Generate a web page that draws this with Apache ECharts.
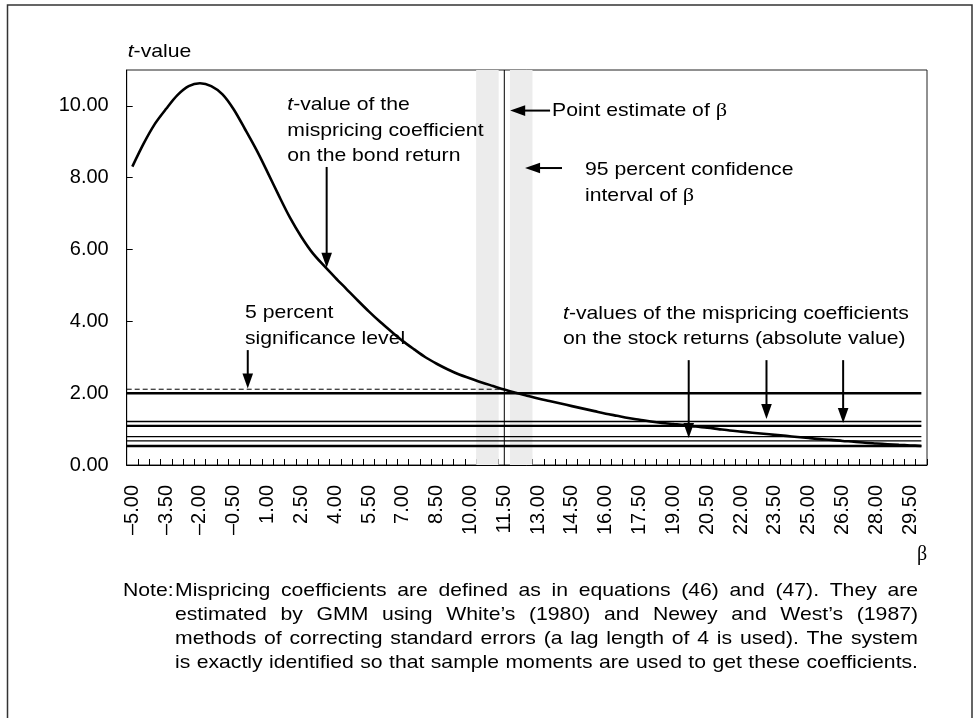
<!DOCTYPE html>
<html><head><meta charset="utf-8">
<script src="https://cdn.jsdelivr.net/npm/echarts@6/dist/echarts.min.js"></script>
<style>html,body{margin:0;padding:0;background:#fff}#c{width:976px;height:718px}</style>
</head><body><div id="c"></div>
<script>
// ---- data ----
const categories = [-5.0,-4.5,-4.0,-3.5,-3.0,-2.5,-2.0,-1.5,-1.0,-0.5,0.0,0.5,1.0,1.5,2.0,2.5,3.0,3.5,4.0,4.5,5.0,5.5,6.0,6.5,7.0,7.5,8.0,8.5,9.0,9.5,10.0,10.5,11.0,11.5,12.0,12.5,13.0,13.5,14.0,14.5,15.0,15.5,16.0,16.5,17.0,17.5,18.0,18.5,19.0,19.5,20.0,20.5,21.0,21.5,22.0,22.5,23.0,23.5,24.0,24.5,25.0,25.5,26.0,26.5,27.0,27.5,28.0,28.5,29.0,29.5,30.0];
const bondBeta = categories;
const bondT = [8.31,8.95,9.5,9.92,10.3,10.55,10.63,10.55,10.32,9.9,9.35,8.78,8.15,7.5,6.88,6.35,5.9,5.55,5.22,4.9,4.58,4.27,3.98,3.71,3.45,3.22,3.0,2.82,2.66,2.52,2.41,2.3,2.2,2.1,2.01,1.93,1.85,1.78,1.71,1.64,1.57,1.5,1.43,1.37,1.31,1.26,1.21,1.17,1.14,1.11,1.07,1.04,1.0,0.96,0.93,0.9,0.87,0.84,0.81,0.78,0.75,0.72,0.7,0.67,0.65,0.62,0.6,0.58,0.56,0.545,0.53];
const stockT = [1.21, 1.09, 0.79, 0.67, 0.53];
const sigLevel = 2.0;
const sigLevelExact = 2.11;
const pointEstimate = 11.5;
const ciBands = [[10.25, 11.25], [11.75, 12.75]];
const yTicks = [0, 2, 4, 6, 8, 10];
const xRange = [-5.25, 30.25];
const yRange = [0, 11];
const noteLines = [
  "Mispricing coefficients are defined as in equations (46) and (47). They are",
  "estimated by GMM using White\u2019s (1980) and Newey and West\u2019s (1987)",
  "methods of correcting standard errors (a lag length of 4 is used). The system",
  "is exactly identified so that sample moments are used to get these coefficients."
];
// arrows: [fromBeta, fromT, toBeta, toT]
const arrowsData = [
  [3.62, 8.30, 3.62, 5.49],
  [0.12, 3.20, 0.12, 2.13],
  [13.53, 9.87, 11.76, 9.87],
  [14.06, 8.27, 12.42, 8.27],
  [19.68, 2.92, 19.68, 0.75],
  [23.13, 2.92, 23.13, 1.28],
  [26.53, 2.92, 26.53, 1.17]
];
// ---- styles ----
const stockWidths = [1.6, 2.4, 1.3, 1.3, 2.4];
const FONT = '"Liberation Sans", Arial, sans-serif';
const SERIF = '"Liberation Serif", "Times New Roman", serif';
const SX = 1.145, FS = 18.5;

const chart = echarts.init(document.getElementById('c'));
const fmt = v => { const n = Number(v); return (n < 0 ? '\u2013' : '') + Math.abs(n).toFixed(2); };

const series = [];
series.push({
  type: 'line', xAxisIndex: 1, yAxisIndex: 0, z: 2, symbol: 'none', silent: true,
  data: [[pointEstimate, yRange[0]], [pointEstimate, yRange[1]]],
  lineStyle: { color: '#000', width: 1 },
  markArea: { silent: true, z: 1, itemStyle: { color: '#ececec' },
    data: ciBands.map(b => [{ xAxis: b[0] }, { xAxis: b[1] }]) }
});
series.push({
  type: 'line', xAxisIndex: 1, yAxisIndex: 0, z: 3, symbol: 'none', silent: true,
  data: [[xRange[0], sigLevelExact], [pointEstimate, sigLevelExact]],
  lineStyle: { color: '#000', width: 1, type: [5, 3] }
});
series.push({
  type: 'line', xAxisIndex: 1, yAxisIndex: 0, z: 3, symbol: 'none', silent: true,
  data: [[xRange[0], sigLevel], [categories[categories.length - 1], sigLevel]],
  lineStyle: { color: '#000', width: 2.4 }
});
stockT.forEach((t, i) => series.push({
  type: 'line', xAxisIndex: 1, yAxisIndex: 0, z: 3, symbol: 'none', silent: true,
  data: [[xRange[0], t], [categories[categories.length - 1], t]],
  lineStyle: { color: '#000', width: stockWidths[i] }
}));
series.push({
  type: 'line', xAxisIndex: 1, yAxisIndex: 0, z: 4, symbol: 'none', silent: true, smooth: 0.3,
  data: bondBeta.map((b, i) => [b, bondT[i]]),
  lineStyle: { color: '#000', width: 2.6 }
});

chart.setOption({
  animation: false,
  backgroundColor: '#fff',
  grid: { left: 126.7, top: 70, right: 49, bottom: 253, show: true, borderColor: '#222', borderWidth: 1, backgroundColor: 'transparent' },
  xAxis: [{
    type: 'category', data: categories, boundaryGap: true, position: 'bottom',
    axisLine: { show: true, onZero: false, lineStyle: { color: '#000', width: 1 } },
    axisTick: { show: true, inside: true, length: 6, interval: 0, lineStyle: { color: '#000' } },
    axisLabel: { interval: 2, rotate: 90, margin: 20, fontSize: 20, color: '#000', fontFamily: FONT, formatter: fmt },
    splitLine: { show: false }
  }, {
    type: 'value', min: xRange[0], max: xRange[1], show: false, position: 'bottom',
    axisLine: { onZero: false }
  }],
  yAxis: {
    type: 'value', min: yRange[0], max: yRange[1], interval: 2,
    axisLine: { show: true, onZero: false, lineStyle: { color: '#000', width: 1 } },
    axisTick: { show: true, inside: true, length: 6, lineStyle: { color: '#000' } },
    axisLabel: { margin: 18, fontSize: 20, color: '#000', fontFamily: FONT, showMaxLabel: false,
      formatter: v => yTicks.indexOf(v) >= 0 ? v.toFixed(2) : '' },
    splitLine: { show: false }
  },
  series: series
});

// ---- annotations ----
const g = [];
const Z = 50;
g.push({ type: 'rect', z: Z, shape: { x: 7.5, y: 5, width: 964.5, height: 800 }, style: { fill: 'none', stroke: '#333', lineWidth: 1.5 }, silent: true });
const rich = {
  i: { fontStyle: 'italic', fontSize: FS, fontFamily: FONT, fill: '#000' },
  b: { fontSize: FS + 1, fontFamily: SERIF, fill: '#000' },
  n: { fontSize: FS, fontFamily: FONT, fill: '#000' }
};
function txt(x, y, text) {
  g.push({ type: 'text', z: Z, x: x, y: y, scaleX: SX, silent: true,
    style: { text: text, fontSize: FS, fontFamily: FONT, fill: '#000', verticalAlign: 'middle', align: 'left', rich: rich } });
}
txt(127.7, 52, '{i|t}{n|-value}');
txt(287.3, 105, '{i|t}{n|-value of the}');
txt(287.3, 130.5, 'mispricing coefficient');
txt(287.3, 156, 'on the bond return');
txt(552, 111, '{n|Point estimate of }{b|\u03b2}');
txt(585, 170, '95 percent confidence');
txt(585, 196, '{n|interval of }{b|\u03b2}');
txt(245, 313, '5 percent');
txt(245, 338.5, 'significance level');
txt(563, 314, '{i|t}{n|-values of the mispricing coefficients}');
txt(563, 339, 'on the stock returns (absolute value)');
g.push({ type: 'text', z: Z, x: 922, y: 555, silent: true, style: { text: '\u03b2', fontSize: 20, fontFamily: SERIF, fill: '#000', align: 'center', verticalAlign: 'middle' } });

// arrows through the chart's own scales
arrowsData.forEach(a => {
  const p0 = chart.convertToPixel({ xAxisIndex: 1, yAxisIndex: 0 }, [a[0], a[1]]);
  const p1 = chart.convertToPixel({ xAxisIndex: 1, yAxisIndex: 0 }, [a[2], a[3]]);
  const dx = p1[0] - p0[0], dy = p1[1] - p0[1], L = Math.hypot(dx, dy);
  const ux = dx / L, uy = dy / L, hl = 15, hw = 5.3;
  const bx = p1[0] - ux * hl, by = p1[1] - uy * hl;
  g.push({ type: 'line', z: Z, silent: true, shape: { x1: p0[0], y1: p0[1], x2: bx + ux * 2, y2: by + uy * 2 }, style: { stroke: '#000', lineWidth: 2 } });
  g.push({ type: 'polygon', z: Z, silent: true, shape: { points: [[p1[0], p1[1]], [bx - uy * hw, by + ux * hw], [bx + uy * hw, by - ux * hw]] }, style: { fill: '#000' } });
});

// justified note
const ctx = document.createElement('canvas').getContext('2d');
ctx.font = FS + 'px ' + FONT;
const mw = s => ctx.measureText(s).width * SX;
const NL = 175, NR = 918, NY = [591, 615, 639, 663];
txt(123, NY[0], 'Note:');
noteLines.forEach((line, li) => {
  const words = line.split(' ');
  const tot = words.reduce((s, w) => s + mw(w), 0);
  const gap = (NR - NL - tot) / (words.length - 1);
  let x = NL;
  words.forEach(w => { txt(x, NY[li], w); x += mw(w) + gap; });
});
chart.setOption({ graphic: g });
</script></body></html>
